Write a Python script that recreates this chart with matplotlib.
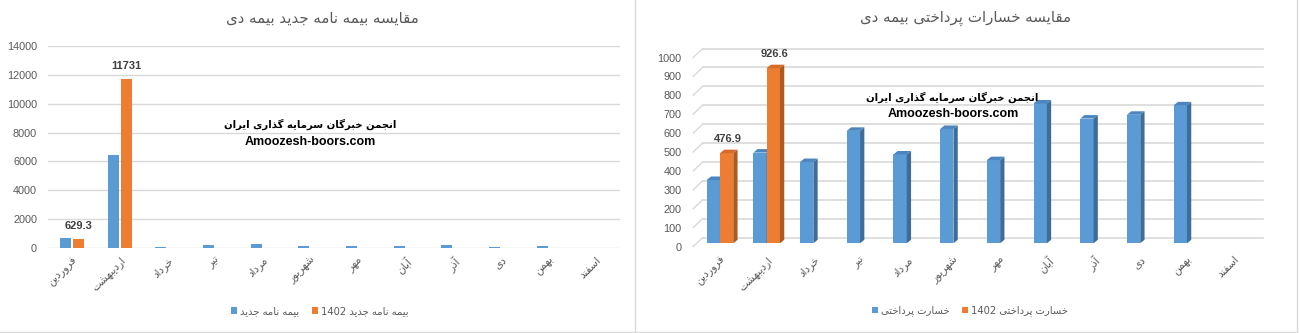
import numpy as np
import matplotlib
matplotlib.use("Agg")
import matplotlib.pyplot as plt
from matplotlib.patches import Polygon, Patch
from matplotlib.lines import Line2D
from matplotlib.transforms import ScaledTranslation

# ---------------- data ----------------
months = ["فروردین", "اردیبهشت", "خرداد", "تیر", "مرداد", "شهریور",
          "مهر", "آبان", "آذر", "دی", "بهمن", "اسفند"]

policies_prev = [693, 6445, 70, 205, 290, 140, 120, 110, 195, 100, 105, np.nan]
policies_1402 = [629.3, 11731, np.nan, np.nan, np.nan, np.nan, np.nan, np.nan, np.nan, np.nan, np.nan, np.nan]

claims_prev = [335, 480, 430, 595, 470, 605, 440, 740, 660, 680, 730, np.nan]
claims_1402 = [476.9, 926.6, np.nan, np.nan, np.nan, np.nan, np.nan, np.nan, np.nan, np.nan, np.nan, np.nan]

title_left = "مقایسه بیمه نامه جدید بیمه دی"
title_right = "مقایسه خسارات پرداختی بیمه دی"
legend_left = ["بیمه نامه جدید", "بیمه نامه جدید 1402"]
legend_right = ["خسارت پرداختی", "خسارت پرداختی 1402"]
watermark_fa = "انجمن خبرگان سرمایه گذاری ایران"
watermark_en = "Amoozesh-boors.com"

left_yticks = list(range(0, 14001, 2000))
right_yticks = list(range(0, 1001, 100))

# ---------------- minimal Persian shaping ----------------
FORMS = {
    'ا': ('\uFE8D', '\uFE8E', None, None),
    'آ': ('\uFE81', '\uFE82', None, None),
    'ب': ('\uFE8F', '\uFE90', '\uFE91', '\uFE92'),
    'پ': ('\uFB56', '\uFB57', '\uFB58', '\uFB59'),
    'ت': ('\uFE95', '\uFE96', '\uFE97', '\uFE98'),
    'ج': ('\uFE9D', '\uFE9E', '\uFE9F', '\uFEA0'),
    'خ': ('\uFEA5', '\uFEA6', '\uFEA7', '\uFEA8'),
    'د': ('\uFEA9', '\uFEAA', None, None),
    'ذ': ('\uFEAB', '\uFEAC', None, None),
    'ر': ('\uFEAD', '\uFEAE', None, None),
    'ز': ('\uFEAF', '\uFEB0', None, None),
    'س': ('\uFEB1', '\uFEB2', '\uFEB3', '\uFEB4'),
    'ش': ('\uFEB5', '\uFEB6', '\uFEB7', '\uFEB8'),
    'ف': ('\uFED1', '\uFED2', '\uFED3', '\uFED4'),
    'ق': ('\uFED5', '\uFED6', '\uFED7', '\uFED8'),
    'گ': ('\uFB92', '\uFB93', '\uFB94', '\uFB95'),
    'م': ('\uFEE1', '\uFEE2', '\uFEE3', '\uFEE4'),
    'ن': ('\uFEE5', '\uFEE6', '\uFEE7', '\uFEE8'),
    'ه': ('\uFEE9', '\uFEEA', '\uFEEB', '\uFEEC'),
    'و': ('\uFEED', '\uFEEE', None, None),
    'ی': ('\uFBFC', '\uFBFD', '\uFBFE', '\uFBFF'),
}


def shape_word(w):
    w = w.replace('\u064A', '\u06CC').replace('\u0643', '\u06A9')
    out = []
    for i, c in enumerate(w):
        if c not in FORMS:
            out.append(c)
            continue
        prev = w[i - 1] if i > 0 else None
        nxt = w[i + 1] if i + 1 < len(w) else None
        jp = prev in FORMS and FORMS[prev][2] is not None
        jn = FORMS[c][2] is not None and nxt in FORMS
        f = FORMS[c]
        if jp and jn:
            out.append(f[3])
        elif jp:
            out.append(f[1])
        elif jn:
            out.append(f[2])
        else:
            out.append(f[0])
    return ''.join(out)[::-1]


def rtl(s):
    words = s.split(' ')
    vis = []
    for w in words:
        if any(ch in FORMS or ch in '\u064A\u0643' for ch in w):
            vis.append(shape_word(w))
        else:
            vis.append(w)
    return ' '.join(vis[::-1])


# ---------------- figure ----------------
W, H = 1300, 333
fig = plt.figure(figsize=(W / 100, H / 100), dpi=100)
fig.patch.set_facecolor('white')


def fx(px):
    return px / W


def fy(py):
    return 1 - py / H


FA = ['DejaVu Sans']
NUM = ['Liberation Sans', 'DejaVu Sans']
GRID = '#d9d9d9'
TXT = '#595959'
BLUE = '#5b9bd5'
ORANGE = '#ed7d31'

# panel borders
fig.add_artist(Line2D([fx(634.5)] * 2, [fy(0), fy(331.5)], color=GRID, lw=1))
fig.add_artist(Line2D([fx(1296.5)] * 2, [fy(0), fy(331.5)], color=GRID, lw=1))
fig.add_artist(Line2D([0, fx(1296.5)], [fy(331.5)] * 2, color=GRID, lw=1))

x = np.arange(len(months))

# ---------------- left chart ----------------
ax1 = fig.add_axes([fx(48.2), fy(248), fx(620 - 48.2), (248 - 46) / H])
ax1.set_xlim(-0.5, 11.5)
ax1.set_ylim(0, 14000)
for s in ax1.spines.values():
    s.set_visible(False)
ax1.set_yticks(left_yticks)
ax1.set_yticklabels([str(v) for v in left_yticks], fontfamily=NUM, fontsize=7.8, color=TXT)
ax1.yaxis.grid(True, color=GRID, lw=1)
ax1.set_axisbelow(True)
ax1.tick_params(axis='both', length=0)
ax1.tick_params(axis='y', pad=8)
bw1 = 0.231
off1 = 0.136
ax1.bar(x - off1, policies_prev, width=bw1, color=BLUE)
ax1.bar(x + off1, policies_1402, width=bw1, color=ORANGE)
for xi, v in zip(x, policies_1402):
    if not np.isnan(v):
        ax1.annotate(f"{v:g}", (xi + off1, v), xytext=(0, 13), textcoords='offset pixels',
                     ha='center', va='center', fontsize=8, fontweight='bold',
                     color='#404040', fontfamily=NUM)
ax1.set_xticks(x)
ax1.set_xticklabels([rtl(m) for m in months], rotation=45, ha='right',
                    rotation_mode='anchor', fontsize=7.6, color=TXT, fontfamily=FA)
ax1.tick_params(axis='x', pad=5)

fig.text(fx(322), fy(18), rtl(title_left), ha='center', va='center',
         fontsize=10.8, color=TXT, fontfamily=FA)
fig.text(fx(310), fy(124), rtl(watermark_fa), ha='center', va='center',
         fontsize=7.3, fontweight='bold', color='black', fontfamily=FA)
fig.text(fx(310), fy(142), watermark_en, ha='center', va='center',
         fontsize=9, fontweight='bold', color='black', fontfamily=NUM)

h1 = [Patch(facecolor=BLUE), Patch(facecolor=ORANGE)]
leg1 = ax1.legend(h1, [rtl(l) for l in legend_left], loc='center',
                  bbox_to_anchor=(fx(320), fy(311)), bbox_transform=fig.transFigure,
                  ncol=2, frameon=False, handlelength=0.6, handleheight=0.6,
                  handletextpad=0.3, columnspacing=1.3,
                  prop={'family': FA, 'size': 7.2})
for t in leg1.get_texts():
    t.set_color(TXT)

# ---------------- right chart (pseudo 3D) ----------------
ax2 = fig.add_axes([fx(696.6), fy(243.3), fx(1257 - 696.6), 189 / H])
ax2.set_xlim(-0.5, 11.5)
ax2.set_ylim(0, 1000)
for s in ax2.spines.values():
    s.set_visible(False)
pxx = (1257 - 696.6) / 12.0      # px per x unit
pxy = 189 / 1000.0               # px per y unit
# offsets in data units
fr_dx, fr_dy = -3.4 / pxx, -3.2 / pxy      # front plane relative to bar plane
bk_dx, bk_dy = 6.1 / pxx, 5.8 / pxy        # back wall relative to bar plane
dp_dx, dp_dy = 4.3 / pxx, 3.5 / pxy        # bar depth

for v in right_yticks:
    ax2.plot([-0.5 + fr_dx, -0.5 + bk_dx], [v + fr_dy, v + bk_dy], color=GRID, lw=1,
             clip_on=False, zorder=0)
    ax2.plot([-0.5 + bk_dx, 11.5 + bk_dx], [v + bk_dy, v + bk_dy], color=GRID, lw=1.2,
             clip_on=False, zorder=0)

ax2.set_yticks(right_yticks)
ax2.set_yticklabels([str(v) for v in right_yticks], fontfamily=NUM, fontsize=7.8, color=TXT)
ax2.tick_params(axis='both', length=0)
ax2.tick_params(axis='y', pad=11)
for lbl in ax2.get_yticklabels():
    lbl.set_transform(lbl.get_transform() + ScaledTranslation(0, -3.2 / 100, fig.dpi_scale_trans))

bw2 = 0.285


def bar3d(ax, xs, vals, color, side, top):
    ax.bar(xs, vals, width=bw2, color=color, clip_on=False, zorder=3)
    for xc, v in zip(xs, vals):
        if np.isnan(v):
            continue
        l, r = xc - bw2 / 2, xc + bw2 / 2
        ax.add_patch(Polygon([(r, 0), (r + dp_dx, dp_dy), (r + dp_dx, v + dp_dy), (r, v)],
                             closed=True, facecolor=side, edgecolor='none', clip_on=False, zorder=3))
        ax.add_patch(Polygon([(l, v), (l + dp_dx, v + dp_dy), (r + dp_dx, v + dp_dy), (r, v)],
                             closed=True, facecolor=top, edgecolor='none', clip_on=False, zorder=3))


bar3d(ax2, x - bw2 / 2, claims_prev, BLUE, '#3e6d9a', '#4d86bf')
bar3d(ax2, x + bw2 / 2, claims_1402, ORANGE, '#ad591f', '#d46c27')
for xi, v in zip(x, claims_1402):
    if not np.isnan(v):
        ax2.annotate(f"{v:g}", (xi + bw2 / 2, v), xytext=(1, 14), textcoords='offset pixels',
                     ha='center', va='center', fontsize=8, fontweight='bold',
                     color='#404040', fontfamily=NUM)

ax2.set_xticks(x)
ax2.set_xticklabels([rtl(m) for m in months], rotation=45, ha='right',
                    rotation_mode='anchor', fontsize=7.6, color=TXT, fontfamily=FA)
ax2.tick_params(axis='x', pad=8)

fig.text(fx(966), fy(18), rtl(title_right), ha='center', va='center',
         fontsize=10.8, color=TXT, fontfamily=FA)
fig.text(fx(952.5), fy(97), rtl(watermark_fa), ha='center', va='center',
         fontsize=7.3, fontweight='bold', color='black', fontfamily=FA)
fig.text(fx(953), fy(114), watermark_en, ha='center', va='center',
         fontsize=9, fontweight='bold', color='black', fontfamily=NUM)

h2 = [Patch(facecolor=BLUE), Patch(facecolor=ORANGE)]
leg2 = ax2.legend(h2, [rtl(l) for l in legend_right], loc='center',
                  bbox_to_anchor=(fx(970), fy(311)), bbox_transform=fig.transFigure,
                  ncol=2, frameon=False, handlelength=0.6, handleheight=0.6,
                  handletextpad=0.3, columnspacing=1.3,
                  prop={'family': FA, 'size': 7.2})
for t in leg2.get_texts():
    t.set_color(TXT)

fig.savefig('out.png', dpi=100, facecolor='white')
